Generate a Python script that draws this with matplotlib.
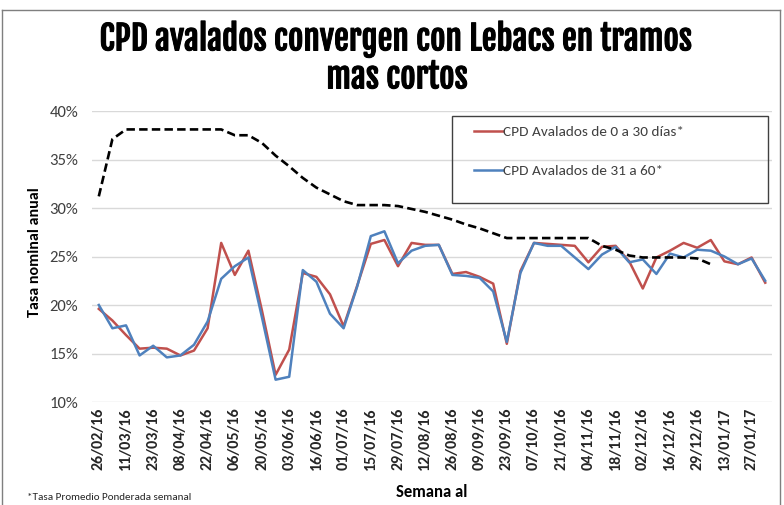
import numpy as np
import matplotlib
matplotlib.use("Agg")
import matplotlib.pyplot as plt
import matplotlib.patheffects as pe
from matplotlib.lines import Line2D
from matplotlib.patches import Rectangle

# weekly observations, ticks every second week
tick_labels = ["26/02/16", "11/03/16", "23/03/16", "08/04/16", "22/04/16", "06/05/16",
               "20/05/16", "03/06/16", "16/06/16", "01/07/16", "15/07/16", "29/07/16",
               "12/08/16", "26/08/16", "09/09/16", "23/09/16", "07/10/16", "21/10/16",
               "04/11/16", "18/11/16", "02/12/16", "16/12/16", "29/12/16", "13/01/17",
               "27/01/17"]

cpd_0_30 = [19.6, 18.4, 16.9, 15.5, 15.6, 15.5, 14.8, 15.3, 17.6, 26.4,
            23.1, 25.6, 19.4, 12.8, 15.4, 23.3, 22.9, 21.1, 17.8, 22.0,
            26.3, 26.7, 24.0, 26.4, 26.2, 26.2, 23.2, 23.4, 22.9, 22.2,
            16.0, 23.5, 26.4, 26.3, 26.2, 26.1, 24.4, 26.0, 26.1, 24.5,
            21.7, 24.9, 25.6, 26.4, 25.9, 26.7, 24.5, 24.2, 24.9, 22.3]

cpd_31_60 = [20.0, 17.6, 17.9, 14.8, 15.8, 14.6, 14.8, 15.9, 18.3, 22.7,
             24.0, 24.9, 18.7, 12.3, 12.6, 23.6, 22.4, 19.1, 17.6, 21.9,
             27.1, 27.6, 24.3, 25.6, 26.1, 26.2, 23.1, 23.0, 22.8, 21.4,
             16.2, 23.3, 26.4, 26.1, 26.1, 24.9, 23.7, 25.2, 26.0, 24.4,
             24.7, 23.2, 25.3, 24.9, 25.7, 25.6, 25.0, 24.2, 24.8, 22.5]

lebac = [31.2, 37.1, 38.1, 38.1, 38.1, 38.1, 38.1, 38.1, 38.1, 38.1,
         37.5, 37.5, 36.7, 35.4, 34.3, 33.1, 32.1, 31.4, 30.7, 30.3,
         30.3, 30.3, 30.2, 29.9, 29.6, 29.2, 28.8, 28.3, 27.9, 27.4,
         26.9, 26.9, 26.9, 26.9, 26.9, 26.9, 26.9, 26.1, 25.7, 25.1,
         24.9, 24.9, 24.9, 24.9, 24.8, 24.2]

W, H = 784, 505
fig = plt.figure(figsize=(W / 100, H / 100), dpi=100)
ax = fig.add_axes([92 / W, 1 - 402 / H, 680 / W, 291 / H])

x = np.arange(len(cpd_0_30))
ax.plot(x, cpd_0_30, color="#C0504D", lw=1.8, label="CPD Avalados de 0 a 30 días*")
ax.plot(x, cpd_31_60, color="#4F81BD", lw=1.8, label="CPD Avalados de 31 a 60*")
ax.plot(np.arange(len(lebac)), lebac, color="black", lw=1.9,
        linestyle=(0, (3.2, 1.6)))

ax.set_xlim(-0.5, len(x) - 0.5)
ax.set_ylim(10, 40)
ax.set_yticks(range(10, 41, 5))
ax.set_yticklabels([f"{v}%" for v in range(10, 41, 5)], fontfamily="Carlito",
                   fontsize=12, color="#404040")
ax.set_xticks(x[::2])
ax.set_xticklabels(tick_labels, rotation=90, fontfamily="Carlito", fontweight="bold",
                   fontsize=11.5, color="#262626")
ax.tick_params(axis="both", length=0)
ax.tick_params(axis="y", pad=10)
ax.tick_params(axis="x", pad=4)
ax.grid(axis="y", color="#D9D9D9", lw=1)
ax.set_axisbelow(True)
for s in ax.spines.values():
    s.set_visible(False)

ax.set_ylabel("Tasa nominal anual", fontfamily="Carlito", fontweight="bold",
              fontsize=11.5, color="black")
ax.yaxis.set_label_coords(42 / W, 0.5, transform=fig.transFigure)
fig.text(432 / W, 1 - 492 / H, "Semana al", ha="center", va="center",
         fontfamily="Carlito", fontweight="bold", fontsize=12)

title_font = ["Fjalla One", "DejaVu Sans"]
bold_fx = [pe.withStroke(linewidth=0.7, foreground="black")]
fig.text(396 / W, 1 - 39 / H, "CPD avalados convergen con Lebacs en tramos",
         ha="center", va="center", fontsize=24, family=title_font, path_effects=bold_fx)
fig.text(397 / W, 1 - 77 / H, "mas cortos",
         ha="center", va="center", fontsize=24, family=title_font, path_effects=bold_fx)

fig.text(27 / W, 1 - 497 / H, "*Tasa Promedio Ponderada semanal", ha="left",
         va="center", fontsize=8, family=["Carlito", "DejaVu Sans"],
         color="#262626")

# legend box
fig.patches.append(Rectangle((452 / W, 1 - 203 / H), 316 / W, 87 / H,
                             transform=fig.transFigure, fill=False,
                             edgecolor="#404040", lw=1))
leg = ax.legend(loc="upper left", bbox_to_anchor=(466 / W, 1 - 118 / H),
                bbox_transform=fig.transFigure, frameon=False, borderpad=0,
                labelspacing=1.7, handlelength=1.9, handletextpad=0.05,
                prop={"family": "Carlito", "size": 11})
for t in leg.get_texts():
    t.set_color("#404040")

# outer chart border
for xs, ys in [((2, 2), (10, H)), ((2, 780), (10, 10)), ((780, 780), (10, H))]:
    fig.add_artist(Line2D([v / W for v in xs], [1 - v / H for v in ys],
                          transform=fig.transFigure, color="#7F7F7F", lw=1))

fig.savefig("out.png", dpi=100)
